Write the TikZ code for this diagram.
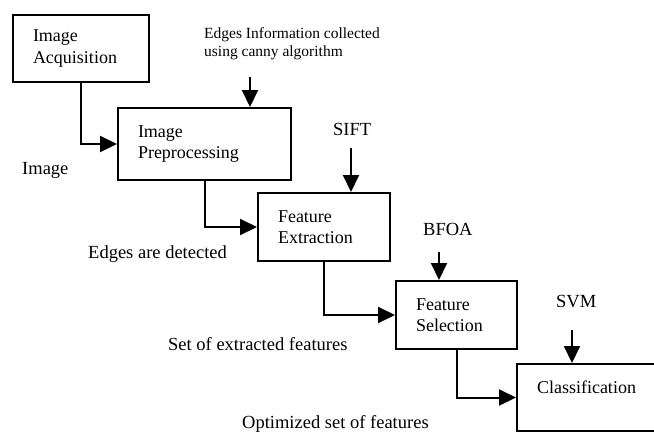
\documentclass[tikz,border=0pt]{standalone}
\usepackage{fontspec}
\setmainfont{Liberation Serif}
\usetikzlibrary{arrows.meta}

\begin{document}
\begin{tikzpicture}[
    x=1pt, y=-1pt,
    stage/.style={draw, rectangle, line width=2pt, anchor=north west, align=left, inner xsep=20pt, inner ysep=0pt, font=\fontsize{18}{21.5}\selectfont},
    note/.style={anchor=base west, inner sep=0pt, font=\fontsize{18.5}{21}\selectfont},
    arrow/.style={line width=2pt, -{Triangle[length=17pt,width=16pt]}}
]
\useasboundingbox (0,0) rectangle (654,432);

\node (acq) [stage, text width=96pt, minimum height=67pt] at (12,14) {Image\\Acquisition};
\node (prep) [stage, text width=133pt, minimum height=72pt] at (117,107) {Image\\Preprocessing};
\node (ext) [stage, text width=92pt, minimum height=68pt] at (257,192) {Feature\\Extraction};
\node (sel) [stage, text width=81pt, minimum height=68pt] at (395,280) {Feature\\Selection};
\node (cls) [stage, text width=99pt, minimum height=67pt] at (516,363) {Classification\\~};

% inputs fed from above
\node (canny) [note, anchor=north west, align=left, font=\fontsize{15.5}{18}\selectfont] at (204,27) {Edges Information collected\\using canny algorithm};
\node (sift) [note] at (333,135) {SIFT};
\node (bfoa) [note] at (423,235) {BFOA};
\node (svm) [note] at (556,307) {SVM};

\coordinate (cannyin) at (250,77);
\coordinate (siftin) at (351,148);
\coordinate (bfoain) at (439,252);
\coordinate (svmin) at (572,330);

% outputs between stages
\node (outimg) [note] at (22,174) {Image};
\node (outedge) [note] at (88,258) {Edges are detected};
\node (outfeat) [note] at (168,350) {Set of extracted features};
\node (outopt) [note] at (242,428) {Optimized set of features};

\draw [arrow] (acq.south) |- (prep.west);
\draw [arrow] (prep.south) |- (ext.west);
\draw [arrow] (ext.south) |- (sel.west);
\draw [arrow] (sel.south) |- (cls.west);

\draw [arrow] (cannyin) -- (cannyin |- prep.north);
\draw [arrow] (siftin) -- (siftin |- ext.north);
\draw [arrow] (bfoain) -- (bfoain |- sel.north);
\draw [arrow] (svmin) -- (svmin |- cls.north);
\end{tikzpicture}
\end{document}
